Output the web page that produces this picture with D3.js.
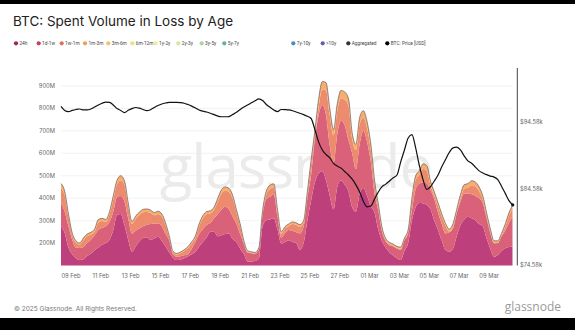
<!DOCTYPE html>
<html><head><meta charset="utf-8">
<script src="https://cdn.jsdelivr.net/npm/d3@7"></script>
<style>body{margin:0;background:#fff;}svg{display:block;font-family:Inter,"Noto Sans",sans-serif;}</style>
</head><body><svg id="c" width="575" height="330"></svg>
<script>
// ---- data (6-hour steps starting 2025-02-08 08:00 UTC), values in millions USD
const startTime = "2025-02-08T08:00:00Z";
const stepHours = 6;
const seriesKeys = ["24h","1d-1w","1w-1m","1m-3m"];
const v24h = [275,245,180,150,132,125,128,142,152,168,180,192,200,215,258,325,330,280,215,162,185,208,222,226,214,220,228,210,185,158,135,124,126,132,140,150,161,185,205,225,250,250,230,235,240,243,218,205,175,150,118,118,120,130,275,302,305,310,260,198,205,213,205,200,170,200,300,390,470,510,520,480,410,350,450,480,460,430,360,340,420,445,410,365,335,260,208,180,158,145,132,124,165,200,300,360,378,376,370,350,300,258,210,169,162,175,230,280,305,317,310,302,285,275,220,175,139,147,165,177,182,186];
const v1d1w = [105,95,95,65,48,53,54,58,63,67,78,76,75,80,82,80,80,105,95,81,70,57,53,56,71,66,60,65,55,54,15,15,15,14,10,25,44,55,57,55,40,60,100,115,122,107,100,80,65,45,40,37,33,40,50,93,101,108,60,27,40,45,50,48,73,75,100,115,195,260,295,290,225,205,235,265,265,230,240,190,220,255,240,195,85,85,42,28,32,40,43,46,47,45,45,80,87,94,95,85,95,77,75,74,86,90,102,105,116,104,108,108,115,102,90,70,60,53,65,78,108,134];
const v1w1m = [65,72,43,21,22,15,30,30,23,17,34,30,19,33,54,57,70,75,56,42,53,60,62,56,49,38,42,43,40,12,8,10,14,19,28,23,19,35,48,48,42,38,55,72,71,78,80,51,35,8,3,1,0,5,10,23,36,30,20,17,20,18,30,33,30,15,15,45,10,35,70,110,135,125,105,100,113,152,65,85,90,60,62,55,42,17,10,4,6,3,3,5,2,6,40,42,38,60,57,22,17,31,33,35,4,11,5,13,21,25,40,42,32,17,12,10,3,2,4,19,32,36];
const v1m3m = [20,18,12,9,8,7,10,10,10,10,13,12,11,12,16,18,20,18,14,11,12,13,13,14,13,12,12,12,10,8,5,5,5,5,6,7,8,10,12,12,12,12,15,16,17,16,14,12,10,7,5,5,5,5,10,14,16,16,10,8,8,9,9,9,9,10,15,20,25,35,35,35,30,25,30,35,35,33,25,25,30,30,28,25,18,13,10,8,7,7,7,7,8,9,15,18,19,23,23,18,16,14,12,10,10,10,13,17,18,19,20,20,18,16,13,10,8,8,9,11,13,14];
const priceK = [97.05,96.4,96.2,96.4,96.55,96.63,96.48,96.48,96.63,96.95,97.28,97.56,97.75,97.7,97.28,96.7,96.4,96.05,96.42,96.7,96.87,96.76,96.55,96.36,96.52,96.87,97.2,97.44,97.6,97.7,97.7,97.7,97.66,97.56,97.35,97.1,96.8,96.48,96.28,96.15,95.96,95.73,95.5,95.4,95.4,95.43,95.75,96.1,96.55,96.95,97.28,97.63,97.96,98.28,98.0,97.35,96.9,96.48,96.22,96.55,96.53,96.48,96.35,96.15,95.96,95.74,95.47,95.12,93.4,91.5,90.28,89.6,89.1,88.3,87.9,87.6,87.1,86.6,86.0,85.2,84.2,82.9,82.15,82.25,83.2,84.2,84.95,85.3,85.75,86.2,86.6,88.5,90.28,92.1,92.6,90.6,87.95,85.9,84.54,84.95,85.75,86.6,87.8,88.85,89.9,90.6,90.7,90.28,89.4,88.65,88.3,87.75,87.2,86.9,86.65,86.45,86.3,85.95,85.0,84.0,83.0,82.4];
const yTicksM = [200,300,400,500,600,700,800,900];
const priceTicks = [74580,84580,94580];
const xTickDates = ["2025-02-09","2025-02-11","2025-02-13","2025-02-15","2025-02-17","2025-02-19","2025-02-21","2025-02-23","2025-02-25","2025-02-27","2025-03-01","2025-03-03","2025-03-05","2025-03-07","2025-03-09"];
const legendNames = ["24h","1d-1w","1w-1m","1m-3m","3m-6m","6m-12m","1y-2y","2y-3y","3y-5y","5y-7y","7y-10y",">10y","Aggregated","BTC: Price [USD]"];
const legendColors = ["#9c2456","#c8405f","#e06f5d","#e9a05a","#f1c46a","#f4dc84","#f1ec9e","#d4e6a0","#a7d6a6","#5db2a6","#4a8bc4","#6a5aa8","#333333","#000000"];
const areaColors = ["#bd3f7c","#da617a","#ec8b6d","#f5ae6c"];

// ---- build
const svg = d3.select("#c");
const L = 61, R = 512.7, T = 68, B = 265.5;
const t0 = new Date(startTime);
const rows = v24h.map((v,i)=>({date:d3.utcHour.offset(t0, i*stepHours), "24h":v, "1d-1w":v1d1w[i], "1w-1m":v1w1m[i], "1m-3m":v1m3m[i], price:priceK[i]*1000}));
const x = d3.scaleUtc().domain([rows[0].date, rows[rows.length-1].date]).range([L, R]);
const y = d3.scaleLinear().domain([100, 980]).range([B, T]);
const yp = d3.scaleLog().domain([74580, 103440]).range([265, T]);

// black bands of the screenshot
svg.append("rect").attr("x",0).attr("y",0).attr("width",575).attr("height",4).attr("fill","#000");
svg.append("rect").attr("x",0).attr("y",318).attr("width",575).attr("height",12).attr("fill","#000");

// title
svg.append("text").attr("x",13).attr("y",26).attr("font-size",13.5).attr("fill","#222").text("BTC: Spent Volume in Loss by Age");

// legend
const legX = [16,38.7,61.7,85,108.3,132.3,155.7,178.3,201.7,224.3,293.3,322.7,348.3,387.3];
const lg = svg.append("g");
legendNames.forEach((n,i)=>{
  lg.append("circle").attr("cx",legX[i]).attr("cy",43.3).attr("r",2.1).attr("fill",legendColors[i]);
  lg.append("text").attr("x",legX[i]+3.4).attr("y",45.1).attr("font-size",4.8).attr("font-family","Roboto,sans-serif").attr("fill","#444").text(n);
});

// grid
svg.append("g").selectAll("line").data(yTicksM).join("line")
  .attr("x1",L).attr("x2",R).attr("y1",d=>y(d)).attr("y2",d=>y(d)).attr("stroke","#efefef").attr("stroke-width",0.8);

// watermark
svg.append("text").attr("x",296).attr("y",188).attr("text-anchor","middle").attr("font-size",60).attr("font-family","'Open Sans',sans-serif").attr("fill","#ebebeb").attr("letter-spacing",-1).text("glassnode");

// stacked areas
svg.append("defs").append("clipPath").attr("id","clip").append("rect").attr("x",L).attr("y",T).attr("width",R-L).attr("height",B-T);
const stack = d3.stack().keys(seriesKeys)(rows);
const area = d3.area().x(d=>x(d.data.date)).y0(d=>y(d[0])).y1(d=>y(d[1])).curve(d3.curveMonotoneX);
svg.append("g").attr("clip-path","url(#clip)").selectAll("path").data(stack).join("path")
  .attr("d",area).attr("fill",(d,i)=>areaColors[i]);
// aggregated outline
const agg = d3.line().x(d=>x(d.data.date)).y(d=>y(d[1])).curve(d3.curveMonotoneX);
svg.append("path").attr("d",agg(stack[stack.length-1])).attr("fill","none").attr("stroke","#6b5a5a").attr("stroke-width",0.7);

// price line
const pl = d3.line().x(d=>x(d.date)).y(d=>yp(d.price)).curve(d3.curveMonotoneX);
svg.append("path").attr("d",pl(rows)).attr("fill","none").attr("stroke","#111").attr("stroke-width",1.2);
const last = rows[rows.length-1];
svg.append("circle").attr("cx",x(last.date)).attr("cy",yp(last.price)).attr("r",1.6).attr("fill","#111");

// left axis labels
svg.append("g").selectAll("text").data(yTicksM).join("text")
  .attr("x",55).attr("y",d=>y(d)+2).attr("text-anchor","end").attr("font-size",5.8).attr("fill","#666").text(d=>d+"M");

// right axis
svg.append("line").attr("x1",517.3).attr("x2",517.3).attr("y1",T).attr("y2",265.5).attr("stroke","#444").attr("stroke-width",1);
svg.append("g").selectAll("text").data(priceTicks).join("text")
  .attr("x",520).attr("y",d=>yp(d)+2).attr("font-size",5.8).attr("fill","#666").text(d=>"$"+(d/1000).toFixed(2)+"k");

// x axis labels
const fmt = d3.utcFormat("%d %b");
svg.append("g").selectAll("text").data(xTickDates.map(s=>new Date(s+"T00:00:00Z"))).join("text")
  .attr("x",d=>x(d)).attr("y",277.5).attr("text-anchor","middle").attr("font-size",5.8).attr("fill","#666").text(d=>fmt(d));

// footer
svg.append("text").attr("x",14).attr("y",311).attr("font-size",6.5).attr("fill","#777").text("© 2025 Glassnode. All Rights Reserved.");
svg.append("text").attr("x",561).attr("y",311).attr("text-anchor","end").attr("font-size",12).attr("font-family","'Open Sans',sans-serif").attr("fill","#9a9a9a").text("glassnode");
</script></body></html>
